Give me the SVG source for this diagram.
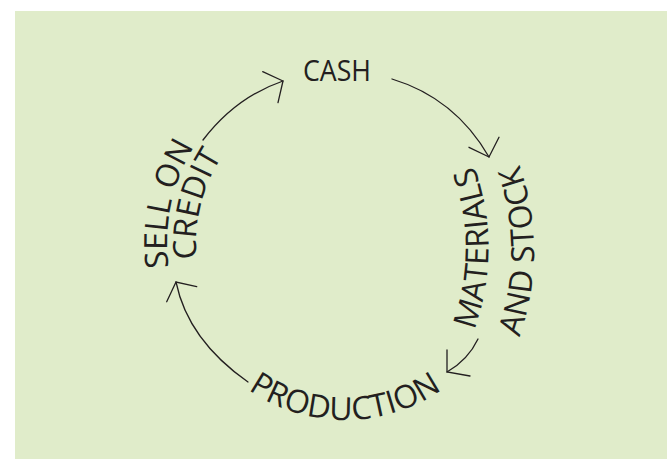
<svg xmlns="http://www.w3.org/2000/svg" xmlns:xlink="http://www.w3.org/1999/xlink" width="667" height="459" viewBox="0 0 667 459">
  <style>
    .lbl { font-family: "Open Sans", "Noto Sans", "Liberation Sans", sans-serif; fill: #231f20; font-weight: 500; }
    .cash { font-size: 29px; }
    .curve { font-size: 32px; }
    .conn { fill: none; stroke: #231f20; stroke-width: 1.3; stroke-linecap: round; stroke-linejoin: miter; }
  </style>
  <defs>
    <path id="pMat" d="M431.5,404 A242,242 0 0 0 431.5,92"/>
    <path id="pAnd" d="M473.2,418.1 A260,260 0 0 0 473.2,83.9"/>
    <path id="pSell" d="M206.4,357.1 A185,185 0 0 1 264.9,79.8"/>
    <path id="pCred" d="M226,334.9 A156,156 0 0 1 283.4,102.9"/>
    <path id="pProd" d="M214.8,359.3 A170,170 0 0 0 475.2,359.3"/>
  </defs>
  <rect x="15" y="11" width="652" height="448" fill="#e0ecca"/>

  <g id="cash">
    <text class="lbl cash" x="337" y="80.5" text-anchor="middle" textLength="68" lengthAdjust="spacingAndGlyphs">CASH</text>
  </g>
  <g id="materials">
    <text class="lbl curve" text-anchor="middle"><textPath xlink:href="#pMat" href="#pMat" startOffset="50%">MATERIALS</textPath></text>
    <text class="lbl curve" text-anchor="middle"><textPath xlink:href="#pAnd" href="#pAnd" startOffset="50%">AND STOCK</textPath></text>
  </g>
  <g id="production">
    <text class="lbl curve" text-anchor="middle"><textPath xlink:href="#pProd" href="#pProd" startOffset="50%">PRODUCTION</textPath></text>
  </g>
  <g id="sell">
    <text class="lbl curve" text-anchor="middle"><textPath xlink:href="#pSell" href="#pSell" startOffset="50%">SELL ON</textPath></text>
    <text class="lbl curve" text-anchor="middle"><textPath xlink:href="#pCred" href="#pCred" startOffset="50%">CREDIT</textPath></text>
  </g>

  <g id="connectors">
    <path class="conn" d="M203,140 Q236,97 283,81"/>
    <polyline class="conn" points="262.7,71.7 283,81 278,102.7"/>
    <path class="conn" d="M392,79 Q455,98 489,157"/>
    <polyline class="conn" points="469,147.3 489,157 499,137.3"/>
    <path class="conn" d="M478,339 Q468,360 447,372"/>
    <polyline class="conn" points="447,350 447,372 470,376"/>
    <path class="conn" d="M248,382 Q188,340 176,282"/>
    <polyline class="conn" points="166.7,301.7 176,282 196.7,286.7"/>
  </g>
</svg>
